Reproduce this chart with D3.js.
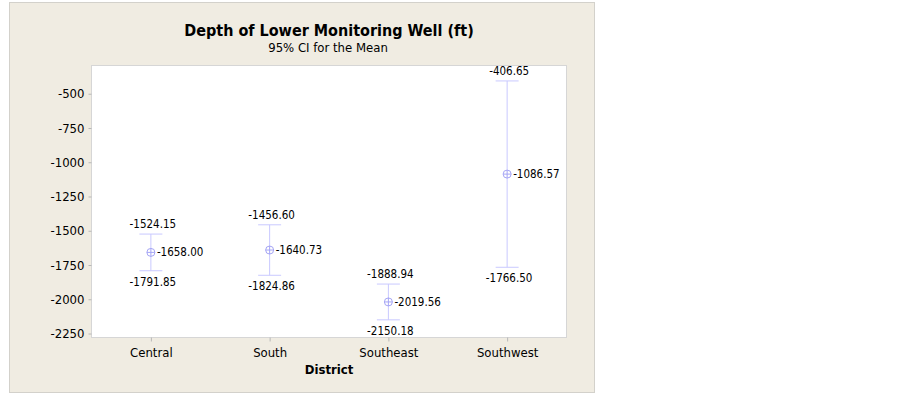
<!DOCTYPE html>
<html>
<head>
<meta charset="utf-8">
<script src="https://cdn.jsdelivr.net/npm/d3@7"></script>
<style>
  body { margin: 0; background: #fff; }
  svg text { font-family: "DejaVu Sans Condensed", Tahoma, "DejaVu Sans", sans-serif; font-stretch: condensed; fill: #000; }
</style>
</head>
<body>
<script>
// data
const districts = ["Central", "South", "Southeast", "Southwest"];
const means = [-1658.00, -1640.73, -2019.56, -1086.57];
const lower = [-1791.85, -1824.86, -2150.18, -1766.50];
const upper = [-1524.15, -1456.60, -1888.94, -406.65];
const yTicks = [-500, -750, -1000, -1250, -1500, -1750, -2000, -2250];

const svgSize = {width: 902, height: 395};
const plot = {left: 91.5, top: 65.5, right: 566.5, bottom: 337.5};

let svg = d3.select("body")
            .append("svg")
            .attr("width", svgSize.width)
            .attr("height", svgSize.height);

// outer panel
svg.append("rect")
    .attr("x", 9.5).attr("y", 2.5)
    .attr("width", 585).attr("height", 390)
    .attr("fill", "#f0ece2")
    .attr("stroke", "#d3d1cb");

// plot area
svg.append("rect")
    .attr("x", plot.left).attr("y", plot.top)
    .attr("width", plot.right - plot.left).attr("height", plot.bottom - plot.top)
    .attr("fill", "#fff")
    .attr("stroke", "#d6d6d6");

// scales
var x = d3.scalePoint()
          .domain(districts)
          .range([plot.left, plot.right])
          .padding(0.5);

var y = d3.scaleLinear()
          .domain([-2279, -294])
          .range([plot.bottom, plot.top]);

// y axis
let yAxis = svg.append("g")
    .attr("transform", `translate(${plot.left},0)`)
    .call(d3.axisLeft(y).tickValues(yTicks).tickFormat(d => String(d)).tickSize(3).tickPadding(4));
yAxis.select(".domain").remove();
yAxis.selectAll(".tick line").attr("stroke", "#b8b8b8");
yAxis.selectAll(".tick text").style("font-size", "13px");

// x axis
let xAxis = svg.append("g")
    .attr("transform", `translate(0,${plot.bottom})`)
    .call(d3.axisBottom(x).tickSize(4).tickPadding(6));
xAxis.select(".domain").remove();
xAxis.selectAll(".tick line").attr("stroke", "#b8b8b8");
xAxis.selectAll(".tick text").style("font-size", "13px");

// axis title
svg.append("text")
    .attr("x", (plot.left + plot.right) / 2)
    .attr("y", 374)
    .attr("text-anchor", "middle")
    .style("font-size", "13px")
    .style("font-weight", "bold")
    .text("District");

// chart title
svg.append("text")
    .attr("x", (plot.left + plot.right) / 2)
    .attr("y", 36)
    .attr("text-anchor", "middle")
    .style("font-size", "16px")
    .style("font-weight", "bold")
    .text("Depth of Lower Monitoring Well (ft)");

svg.append("text")
    .attr("x", (plot.left + plot.right) / 2 - 1)
    .attr("y", 52)
    .attr("text-anchor", "middle")
    .style("font-size", "13px")
    .text("95% CI for the Mean");

// intervals
const rows = districts.map((d, i) => ({name: d, mean: means[i], lo: lower[i], hi: upper[i]}));
const barColor = "#c9c9ff";
const capHalf = 11.5;

let ci = svg.selectAll(".ci")
    .data(rows)
    .enter()
    .append("g")
    .attr("class", "ci");

ci.append("line")
    .attr("x1", d => x(d.name)).attr("x2", d => x(d.name))
    .attr("y1", d => y(d.hi)).attr("y2", d => y(d.lo))
    .attr("stroke", barColor);

ci.append("line")
    .attr("x1", d => x(d.name) - capHalf).attr("x2", d => x(d.name) + capHalf)
    .attr("y1", d => y(d.hi)).attr("y2", d => y(d.hi))
    .attr("stroke", barColor);

ci.append("line")
    .attr("x1", d => x(d.name) - capHalf).attr("x2", d => x(d.name) + capHalf)
    .attr("y1", d => y(d.lo)).attr("y2", d => y(d.lo))
    .attr("stroke", barColor);

// mean symbol: circle with cross
ci.append("circle")
    .attr("cx", d => x(d.name)).attr("cy", d => y(d.mean))
    .attr("r", 4)
    .attr("fill", "#fff")
    .attr("stroke", "#a5a5f5");
ci.append("line")
    .attr("x1", d => x(d.name) - 4).attr("x2", d => x(d.name) + 4)
    .attr("y1", d => y(d.mean)).attr("y2", d => y(d.mean))
    .attr("stroke", "#a5a5f5");
ci.append("line")
    .attr("x1", d => x(d.name)).attr("x2", d => x(d.name))
    .attr("y1", d => y(d.mean) - 4).attr("y2", d => y(d.mean) + 4)
    .attr("stroke", "#a5a5f5");

// value labels
ci.append("text")
    .attr("x", d => x(d.name) + 2)
    .attr("y", d => y(d.hi) - 6)
    .attr("text-anchor", "middle")
    .style("font-size", "11.5px")
    .text(d => d.hi.toFixed(2));

ci.append("text")
    .attr("x", d => x(d.name) + 2)
    .attr("y", d => y(d.lo) + 15)
    .attr("text-anchor", "middle")
    .style("font-size", "11.5px")
    .text(d => d.lo.toFixed(2));

ci.append("text")
    .attr("x", d => x(d.name) + 6)
    .attr("y", d => y(d.mean) + 4)
    .style("font-size", "11.5px")
    .text(d => d.mean.toFixed(2));
</script>
</body>
</html>
